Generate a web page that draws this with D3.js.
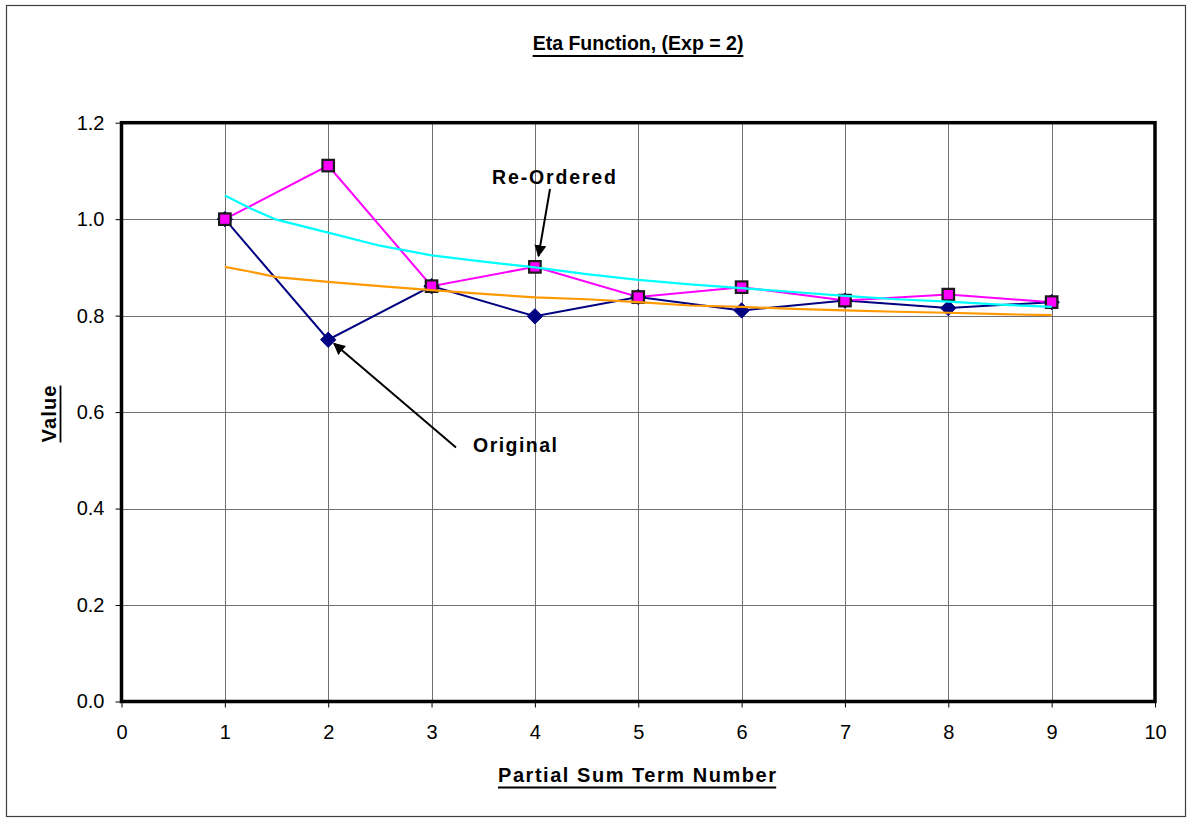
<!DOCTYPE html>
<html>
<head>
<meta charset="utf-8">
<script src="https://cdn.jsdelivr.net/npm/d3@7"></script>
<style>
  html, body { margin: 0; padding: 0; background: #fff; }
  svg { display: block; font-family: "Liberation Sans", Arial, sans-serif; }
</style>
</head>
<body>
<svg id="chart" width="1187" height="818"></svg>
<script>
// Partial sums of the alternating series 1 - 1/4 + 1/9 - ... (term numbers 1..9)
const terms = [1, 2, 3, 4, 5, 6, 7, 8, 9];
const original = [1.0, 0.75, 0.8611, 0.7986, 0.8386, 0.8108, 0.8312, 0.8156, 0.8280];
const reordered = [1.0, 1.1111, 0.8611, 0.9011, 0.8386, 0.8590, 0.8312, 0.8436, 0.8280];

// Upper and lower envelope curves
const envX = [1, 1.25, 1.5, 2, 2.5, 3, 3.5, 4, 4.5, 5, 5.5, 6, 6.5, 7, 7.5, 8, 8.5, 9];
const upperEnv = [1.049, 1.022, 0.999, 0.972, 0.945, 0.925, 0.912, 0.900, 0.886, 0.874, 0.865, 0.857, 0.849, 0.841, 0.834, 0.829, 0.823, 0.818];
const lowerEnv = [0.901, 0.891, 0.880, 0.870, 0.861, 0.853, 0.845, 0.838, 0.834, 0.828, 0.821, 0.818, 0.814, 0.811, 0.808, 0.806, 0.803, 0.801];

const xTicks = [0, 1, 2, 3, 4, 5, 6, 7, 8, 9, 10];
const yTicks = [0, 0.2, 0.4, 0.6, 0.8, 1.0, 1.2];

const svg = d3.select("#chart");
const W = 1187, H = 818;

// outer chart frame
svg.append("rect")
  .attr("x", 6.5).attr("y", 5.5)
  .attr("width", W - 8).attr("height", H - 7)
  .attr("fill", "#fff").attr("stroke", "#404040").attr("stroke-width", 1.2);

const x = d3.scaleLinear().domain([0, 10]).range([121.5, 1155]);
const y = d3.scaleLinear().domain([0, 1.2]).range([701.5, 122.7]);

// gridlines
const grid = svg.append("g").attr("stroke", "#707070").attr("stroke-width", 1);
grid.selectAll("line.v").data(xTicks.slice(1, -1)).join("line")
  .attr("x1", d => Math.round(x(d)) + 0.5).attr("x2", d => Math.round(x(d)) + 0.5)
  .attr("y1", y(1.2)).attr("y2", y(0));
grid.selectAll("line.h").data(yTicks.slice(1, -1)).join("line")
  .attr("y1", d => Math.round(y(d)) + 0.5).attr("y2", d => Math.round(y(d)) + 0.5)
  .attr("x1", x(0)).attr("x2", x(10));

// axes
const xAxis = d3.axisBottom(x).tickValues(xTicks).tickSize(6).tickPadding(10).tickFormat(d3.format("d"));
const yAxis = d3.axisLeft(y).tickValues(yTicks).tickSize(6).tickPadding(10).tickFormat(d3.format(".1f"));

const gx = svg.append("g").attr("transform", `translate(0,${y(0)})`).call(xAxis);
const gy = svg.append("g").attr("transform", `translate(${x(0)},0)`).call(yAxis);
[gx, gy].forEach(g => {
  g.select(".domain").remove();
  g.selectAll(".tick line").attr("stroke", "#000").attr("stroke-width", 1);
  g.selectAll(".tick text").attr("fill", "#000").style("font-size", "20px")
    .style("font-family", "'Liberation Sans', Arial, sans-serif");
});
gx.selectAll(".tick text").attr("dy", "0.71em").attr("y", 23);
gy.selectAll(".tick text").attr("x", -17);

// plot-area border
svg.append("rect")
  .attr("x", x(0)).attr("y", y(1.2))
  .attr("width", x(10) - x(0)).attr("height", y(0) - y(1.2))
  .attr("fill", "none").attr("stroke", "#000").attr("stroke-width", 3.5);

const lineGen = d3.line().x(d => x(d[0])).y(d => y(d[1]));

// Original series
svg.append("path")
  .datum(terms.map((t, i) => [t, original[i]]))
  .attr("d", lineGen).attr("fill", "none").attr("stroke", "#000080").attr("stroke-width", 2);
// Re-ordered series
svg.append("path")
  .datum(terms.map((t, i) => [t, reordered[i]]))
  .attr("d", lineGen).attr("fill", "none").attr("stroke", "#FF00FF").attr("stroke-width", 2);

// markers: diamonds for original
svg.append("g").selectAll("path").data(terms.map((t, i) => [t, original[i]])).join("path")
  .attr("d", d3.symbol().type(d3.symbolDiamond2).size(150))
  .attr("transform", d => `translate(${x(d[0])},${y(d[1])})`)
  .attr("fill", "#000080").attr("stroke", "#000080").attr("stroke-width", 1);

// markers: squares for re-ordered
const sq = 11.5;
svg.append("g").selectAll("rect").data(terms.map((t, i) => [t, reordered[i]])).join("rect")
  .attr("x", d => x(d[0]) - sq / 2).attr("y", d => y(d[1]) - sq / 2)
  .attr("width", sq).attr("height", sq)
  .attr("fill", "#FF00FF").attr("stroke", "#1a1a1a").attr("stroke-width", 2.2);

// envelope curves
svg.append("path")
  .datum(envX.map((t, i) => [t, upperEnv[i]]))
  .attr("d", lineGen).attr("fill", "none").attr("stroke", "#00FFFF").attr("stroke-width", 2.2);
svg.append("path")
  .datum(envX.map((t, i) => [t, lowerEnv[i]]))
  .attr("d", lineGen).attr("fill", "none").attr("stroke", "#FF9900").attr("stroke-width", 2.2);

// underlined bold label: underline drawn as a line under the measured text
function boldLabel(parent, txt, px, py, opts) {
  const g = parent.append("g").attr("transform", opts.transform || `translate(${px},${py})`);
  const t = g.append("text")
    .attr("x", 0).attr("y", 0).attr("text-anchor", opts.anchor || "middle")
    .style("font-size", (opts.size || 19) + "px").style("font-weight", "bold")
    .text(txt);
  if (opts.len) t.attr("textLength", opts.len).attr("lengthAdjust", "spacing");
  if (opts.underline) {
    const bb = t.node().getBBox();
    g.append("line")
      .attr("x1", bb.x).attr("x2", bb.x + bb.width)
      .attr("y1", opts.ulOffset || 6).attr("y2", opts.ulOffset || 6)
      .attr("stroke", "#000").attr("stroke-width", 1.8);
  }
  return g;
}

// titles
boldLabel(svg, "Eta Function, (Exp = 2)", 638, 50, { underline: true, size: 19.5 });
boldLabel(svg, "Partial Sum Term Number", 637, 781.5, { underline: true, size: 20, len: 278 });
boldLabel(svg, "Value", 0, 0, { underline: true, size: 20, len: 57, transform: "translate(55.5,414) rotate(-90)", ulOffset: 5 });

// annotations with arrows
const defs = svg.append("defs");
defs.append("marker").attr("id", "arrowHead")
  .attr("viewBox", "0 0 10 10").attr("refX", 9).attr("refY", 5)
  .attr("markerWidth", 12).attr("markerHeight", 12).attr("markerUnits", "userSpaceOnUse")
  .attr("orient", "auto")
  .append("path").attr("d", "M0,0 L10,5 L0,10 Z").attr("fill", "#000");

boldLabel(svg, "Re-Ordered", 554, 183.5, { len: 124, size: 19.5 });
svg.append("line")
  .attr("x1", 550).attr("y1", 189).attr("x2", 538.5).attr("y2", 256)
  .attr("stroke", "#000").attr("stroke-width", 2).attr("marker-end", "url(#arrowHead)");

boldLabel(svg, "Original", 473, 452, { anchor: "start", len: 84, size: 19.5 });
svg.append("line")
  .attr("x1", 456).attr("y1", 447.5).attr("x2", 334).attr("y2", 343.5)
  .attr("stroke", "#000").attr("stroke-width", 2).attr("marker-end", "url(#arrowHead)");
</script>
</body>
</html>
